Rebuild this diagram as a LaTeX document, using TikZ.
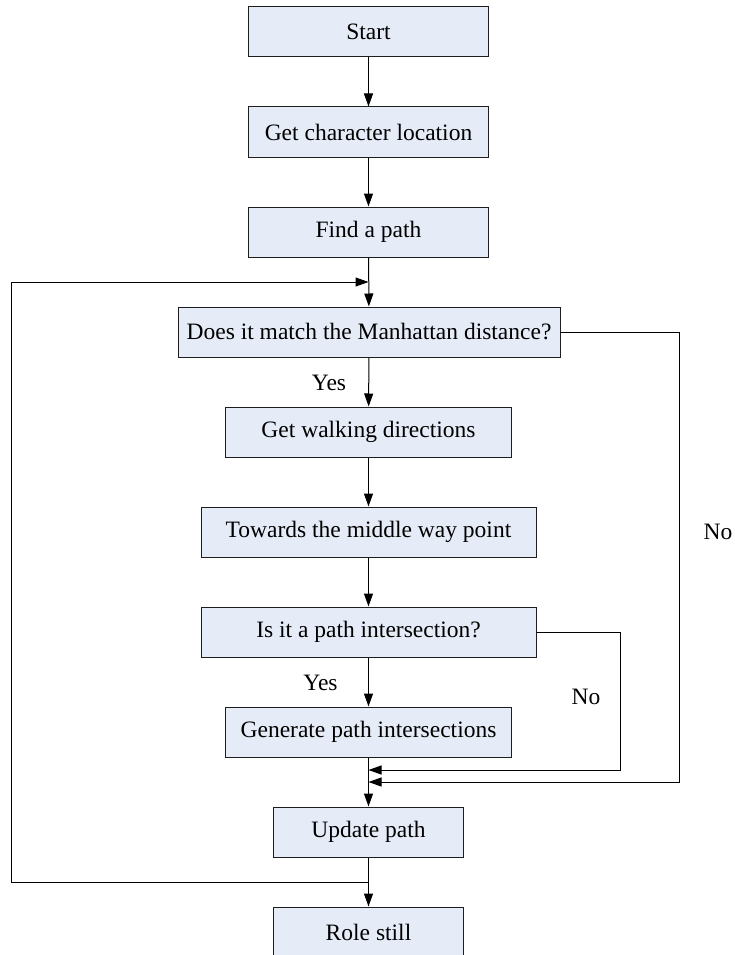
\documentclass[tikz,border=0pt]{standalone}
\usepackage{fontspec}
\setmainfont{Liberation Serif}
\usetikzlibrary{arrows.meta}
\definecolor{boxfill}{HTML}{E6ECF7}
\definecolor{boxline}{HTML}{1E1E1E}
\begin{document}
\begin{tikzpicture}[x=1pt,y=-1pt,
  stepbox/.style={draw=boxline, fill=boxfill, line width=1pt,
    minimum height=50pt, inner sep=0pt,
    font=\fontsize{23.5}{28}\selectfont},
  flow/.style={line width=1pt, -{Triangle[length=13pt,width=9pt]}},
  lbl/.style={font=\fontsize{23.5}{28}\selectfont, inner sep=0pt}]
\useasboundingbox (0,0) rectangle (734,955);

% process steps
\node[stepbox, minimum width=240pt] (start)  at (368.5,32)  {Start};
\node[stepbox, minimum width=240pt] (getloc) at (368.5,132) {Get character location};
\node[stepbox, minimum width=240pt] (find)   at (368.5,232) {Find a path};
\node[stepbox, minimum width=382pt] (match)  at (369,332)   {Does it match the Manhattan distance?};
\node[stepbox, minimum width=286pt] (walk)   at (368.5,432) {Get walking directions};
\node[stepbox, minimum width=335pt] (toward) at (368.5,532) {Towards the middle way point};
\node[stepbox, minimum width=335pt] (isit)   at (368.5,632) {Is it a path intersection?};
\node[stepbox, minimum width=286pt] (gen)    at (368.5,732) {Generate path intersections};
\node[stepbox, minimum width=190pt] (update) at (368.5,832) {Update path};
\node[stepbox, minimum width=190pt] (role)   at (368.5,932) {Role still};

% junction points on the main line and corners of the side branches
\coordinate (topj)     at (368.5,282);
\coordinate (lowj)     at (368.5,882);
\coordinate (loopleft) at (11,882);
\coordinate (j1)       at (368.5,770);
\coordinate (j2)       at (368.5,782);
\coordinate (r1)       at (620,770);
\coordinate (r2)       at (679,782);

% main flow
\draw[flow] (start)  -- (getloc);
\draw[flow] (getloc) -- (find);
\draw[flow] (find)   -- (match);
\draw[flow] (match)  -- (walk);
\draw[flow] (walk)   -- (toward);
\draw[flow] (toward) -- (isit);
\draw[flow] (isit)   -- (gen);
\draw[flow] (gen)    -- (update);
\draw[flow] (update) -- (role);

% "No" branches rejoining before the update
\draw[flow] (isit.east)  -| (r1) -- (j1);
\draw[flow] (match.east) -| (r2) -- (j2);

% loop back to the distance check
\draw[flow] (lowj) -- (loopleft) |- (topj);

% branch labels
\node[lbl] (yes1) at (329,383)   {Yes};
\node[lbl] (yes2) at (320.5,683) {Yes};
\node[lbl] (no1)  at (586,697)   {No};
\node[lbl] (no2)  at (718,532)   {No};
\end{tikzpicture}
\end{document}
